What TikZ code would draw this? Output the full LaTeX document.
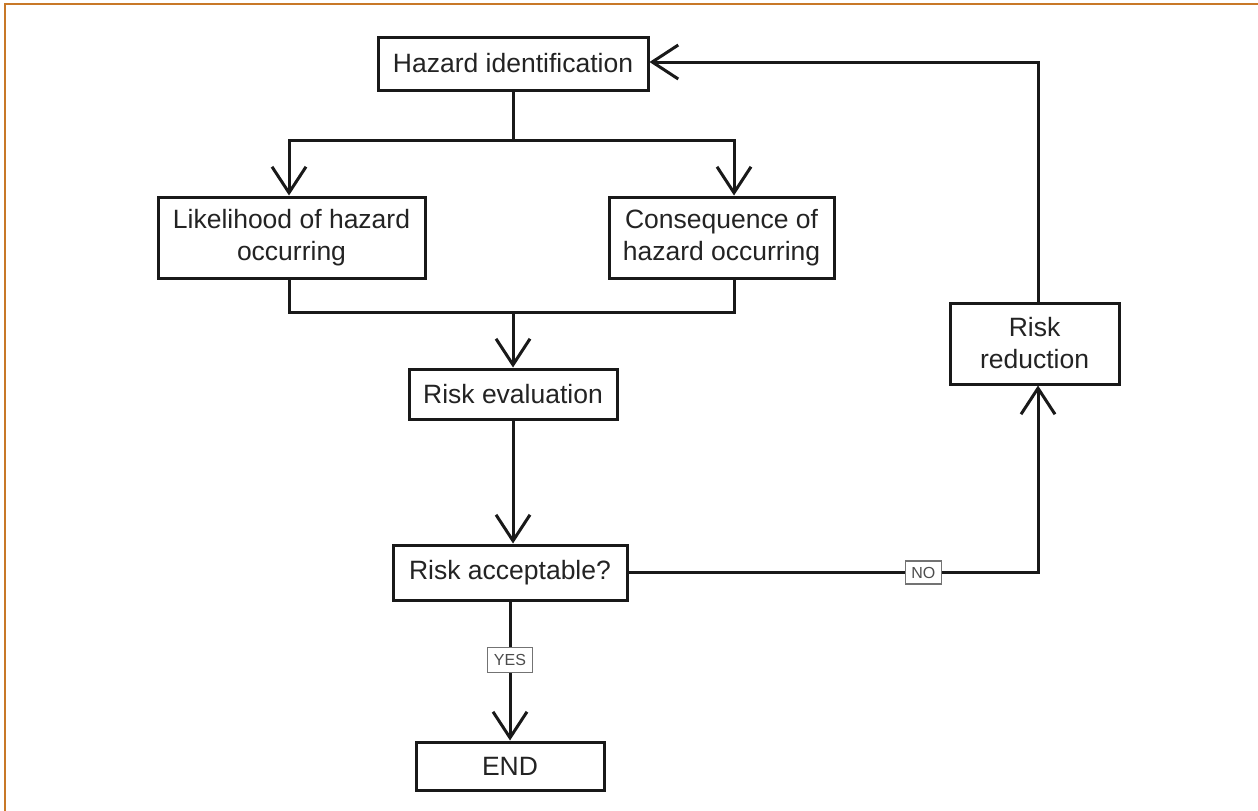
\documentclass[tikz,border=0pt]{standalone}
\usepackage{fontspec}
\setmainfont{Liberation Sans}
\usetikzlibrary{arrows.meta}
\definecolor{frameorange}{RGB}{200,120,40}
\definecolor{inkline}{RGB}{25,25,25}
\definecolor{inktext}{RGB}{35,35,35}
\begin{document}
\begin{tikzpicture}[x=1pt,y=-1pt,
  box/.style={draw=inkline, line width=3pt, text=inktext, font=\fontsize{26.5}{32}\selectfont, align=center, inner sep=0pt},
  conn/.style={line width=3pt, draw=inkline},
  arr/.style={conn, -{Straight Barb[length=26pt,width=34pt]}},
  lbl/.style={draw=black!55, line width=1.4pt, text=black!70, fill=white, font=\fontsize{16}{18}\selectfont, inner sep=2pt}]
\useasboundingbox (0,0) rectangle (1258,811);
\draw[frameorange, line width=2pt] (5,811) -- (5,4) -- (1258,4);

\node[box, minimum width=270pt, minimum height=53pt] (hz) at (513,63.5) {Hazard identification};
\node[box, minimum width=267pt, minimum height=81pt] (lk) at (291.5,237.5) {Likelihood of hazard\\occurring};
\node[box, minimum width=225pt, minimum height=81pt] (cq) at (721.5,237.5) {Consequence of\\hazard occurring};
\node[box, minimum width=208pt, minimum height=50pt] (ev) at (513,394) {Risk evaluation};
\node[box, minimum width=234pt, minimum height=55pt] (ac) at (510,572.5) {Risk acceptable?};
\node[box, minimum width=188pt, minimum height=48pt] (en) at (510,766) {END};
\node[box, minimum width=169pt, minimum height=81pt] (rr) at (1034.5,343.5) {Risk\\reduction};

\coordinate (t1) at (513,140);
\coordinate (tl) at (289,140);
\coordinate (tr) at (734,140);
\coordinate (bl) at (289,312);
\coordinate (br) at (734,312);
\coordinate (b1) at (513,312);
\coordinate (rc) at (1038,572.5);
\coordinate (rt) at (1038,62);

\draw[conn] (hz.south) -- (t1);
\draw[arr] (t1) -- (tl) -- (tl |- lk.north);
\draw[arr] (t1) -- (tr) -- (tr |- cq.north);
\draw[conn] (lk.south -| bl) -- (bl) -- (br) -- (cq.south -| br);
\draw[arr] (b1) -- (b1 |- ev.north);
\draw[arr] (ev.south) -- (ev.south |- ac.north);
\draw[arr] (ac.south) -- node[lbl, pos=0.42, minimum width=45pt, minimum height=25pt] {YES} (ac.south |- en.north);
\draw[arr] (ac.east) -- node[lbl, pos=0.72, minimum width=36pt, minimum height=23pt] {NO} (rc) -- (rc |- rr.south);
\draw[arr] (rc |- rr.north) -- (rt) -- (hz.east |- rt);
\end{tikzpicture}
\end{document}
